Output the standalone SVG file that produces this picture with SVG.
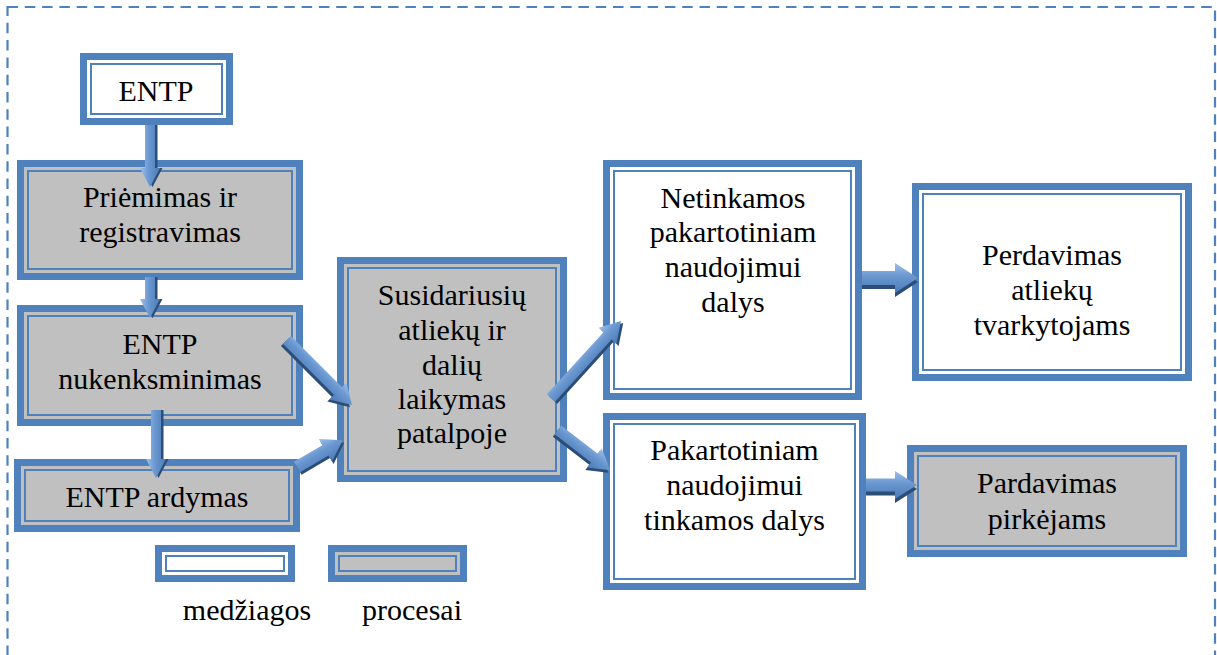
<svg xmlns="http://www.w3.org/2000/svg" width="1217" height="655" viewBox="0 0 1217 655" font-family="'Liberation Serif', 'Times New Roman', 'DejaVu Serif', serif">
<defs>
<linearGradient id="ag" x1="0" y1="0" x2="0" y2="1">
<stop offset="0" stop-color="#9CBFEA"/>
<stop offset="0.45" stop-color="#6A97D0"/>
<stop offset="1" stop-color="#4A7AB5"/>
</linearGradient>
</defs>
<style>
.frame{fill:none;stroke:#4F81BD;stroke-width:2.2;stroke-dasharray:10.5 6.8}
.ob{stroke:#4F81BD;stroke-width:7}
.ib{fill:none;stroke:#4F81BD;stroke-width:2}
.w{fill:#FFFFFF}
.g{fill:#C0C0C0}
.t{font-family:'Liberation Serif', serif;font-size:30px;fill:#000;text-anchor:middle}
.ash{fill:#2C4D75}
.abody{fill:url(#ag)}
</style>
<rect width="1217" height="655" fill="#FFFFFF"/>
<rect class="frame" x="7.5" y="7" width="1207.5" height="700"/>

<g id="n1">
<rect class="ob w" x="83.5" y="56.5" width="146" height="65"/>
<rect class="ib" x="91" y="64" width="131" height="50"/>
<text class="t" x="156" y="101">ENTP</text>
</g>
<g id="n2">
<rect class="ob g" x="20.5" y="163.5" width="279" height="113"/>
<rect class="ib" x="28" y="171" width="264" height="98"/>
<text class="t" x="160" y="207">Priėmimas ir</text>
<text class="t" x="160" y="242">registravimas</text>
</g>
<g id="n3">
<rect class="ob g" x="20.5" y="308.5" width="279" height="114"/>
<rect class="ib" x="28" y="316" width="264" height="99"/>
<text class="t" x="160" y="354">ENTP</text>
<text class="t" x="160" y="389">nukenksminimas</text>
</g>
<g id="n4">
<rect class="ob g" x="17.5" y="462.5" width="279" height="66"/>
<rect class="ib" x="25" y="470" width="264" height="51"/>
<text class="t" x="157" y="507">ENTP ardymas</text>
</g>
<g id="n5">
<rect class="ob g" x="340.5" y="260.5" width="223" height="218"/>
<rect class="ib" x="348" y="268" width="208" height="203"/>
<text class="t" x="452" y="305">Susidariusių</text>
<text class="t" x="452" y="340">atliekų ir</text>
<text class="t" x="452" y="375">dalių</text>
<text class="t" x="452" y="409">laikymas</text>
<text class="t" x="452" y="443">patalpoje</text>
</g>
<g id="n6">
<rect class="ob w" x="606.5" y="163.5" width="252" height="233"/>
<rect class="ib" x="614" y="171" width="237" height="218"/>
<text class="t" x="733" y="208">Netinkamos</text>
<text class="t" x="733" y="242">pakartotiniam</text>
<text class="t" x="733" y="277">naudojimui</text>
<text class="t" x="733" y="312">dalys</text>
</g>
<g id="n7">
<rect class="ob w" x="606.5" y="416.5" width="256" height="170"/>
<rect class="ib" x="614" y="424" width="241" height="155"/>
<text class="t" x="734.5" y="460">Pakartotiniam</text>
<text class="t" x="734.5" y="495">naudojimui</text>
<text class="t" x="734.5" y="530">tinkamos dalys</text>
</g>
<g id="n8">
<rect class="ob w" x="915.5" y="186.5" width="273" height="191"/>
<rect class="ib" x="923" y="194" width="258" height="176"/>
<text class="t" x="1052" y="265">Perdavimas</text>
<text class="t" x="1052" y="300">atliekų</text>
<text class="t" x="1052" y="335">tvarkytojams</text>
</g>
<g id="n9">
<rect class="ob g" x="910.5" y="448.5" width="273" height="105"/>
<rect class="ib" x="918" y="456" width="258" height="90"/>
<text class="t" x="1047" y="493">Pardavimas</text>
<text class="t" x="1047" y="529">pirkėjams</text>
</g>

<g id="legend-medziagos">
<rect class="ob w" x="158.5" y="548.5" width="133" height="30"/>
<rect class="ib" x="166" y="556" width="118" height="15"/>
<text class="t" x="247" y="620">medžiagos</text>
</g>
<g id="legend-procesai">
<rect class="ob g" x="331.5" y="548.5" width="132" height="30"/>
<rect class="ib" x="339" y="556" width="117" height="15"/>
<text class="t" x="412" y="620">procesai</text>
</g>

<g id="connectors">
<g transform="translate(150,125) rotate(90) scale(1,-1)">
<path class="ash" transform="translate(0,2.5)" d="M0,-5H43V-10L62,0L43,10V5H0Z"/>
<path class="abody" d="M0,-5H43V-10L62,0L43,10V5H0Z"/>
</g>
<g transform="translate(150,277) rotate(90) scale(1,-1)">
<path class="ash" transform="translate(0,2.5)" d="M0,-5H22V-10L41,0L22,10V5H0Z"/>
<path class="abody" d="M0,-5H22V-10L41,0L22,10V5H0Z"/>
</g>
<g transform="translate(156,410) rotate(90) scale(1,-1)">
<path class="ash" transform="translate(0,2.5)" d="M0,-5H49V-10L68,0L49,10V5H0Z"/>
<path class="abody" d="M0,-5H49V-10L68,0L49,10V5H0Z"/>
</g>
<g transform="translate(287,340) rotate(45)">
<path class="ash" transform="translate(0,3)" d="M0,-5.5H72V-12L92,0L72,12V5.5H0Z"/>
<path class="abody" d="M0,-5.5H72V-12L92,0L72,12V5.5H0Z"/>
</g>
<g transform="translate(297,467) rotate(-30.4)">
<path class="ash" transform="translate(0,3)" d="M0,-6H33V-13L53,0L33,13V6H0Z"/>
<path class="abody" d="M0,-6H33V-13L53,0L33,13V6H0Z"/>
</g>
<g transform="translate(551,398) rotate(-47.7)">
<path class="ash" transform="translate(0,3)" d="M0,-5.5H84V-12L104,0L84,12V5.5H0Z"/>
<path class="abody" d="M0,-5.5H84V-12L104,0L84,12V5.5H0Z"/>
</g>
<g transform="translate(558,430) rotate(37.6)">
<path class="ash" transform="translate(0,3)" d="M0,-5.5H46V-12L66,0L46,12V5.5H0Z"/>
<path class="abody" d="M0,-5.5H46V-12L66,0L46,12V5.5H0Z"/>
</g>
<g transform="translate(862,278)">
<path class="ash" transform="translate(0,4)" d="M0,-7H33V-15L56,0L33,15V7H0Z"/>
<path class="abody" d="M0,-7H33V-15L56,0L33,15V7H0Z"/>
</g>
<g transform="translate(866,485)">
<path class="ash" transform="translate(0,4)" d="M0,-6.5H29V-14L51,0L29,14V6.5H0Z"/>
<path class="abody" d="M0,-6.5H29V-14L51,0L29,14V6.5H0Z"/>
</g>
</g>
</svg>
